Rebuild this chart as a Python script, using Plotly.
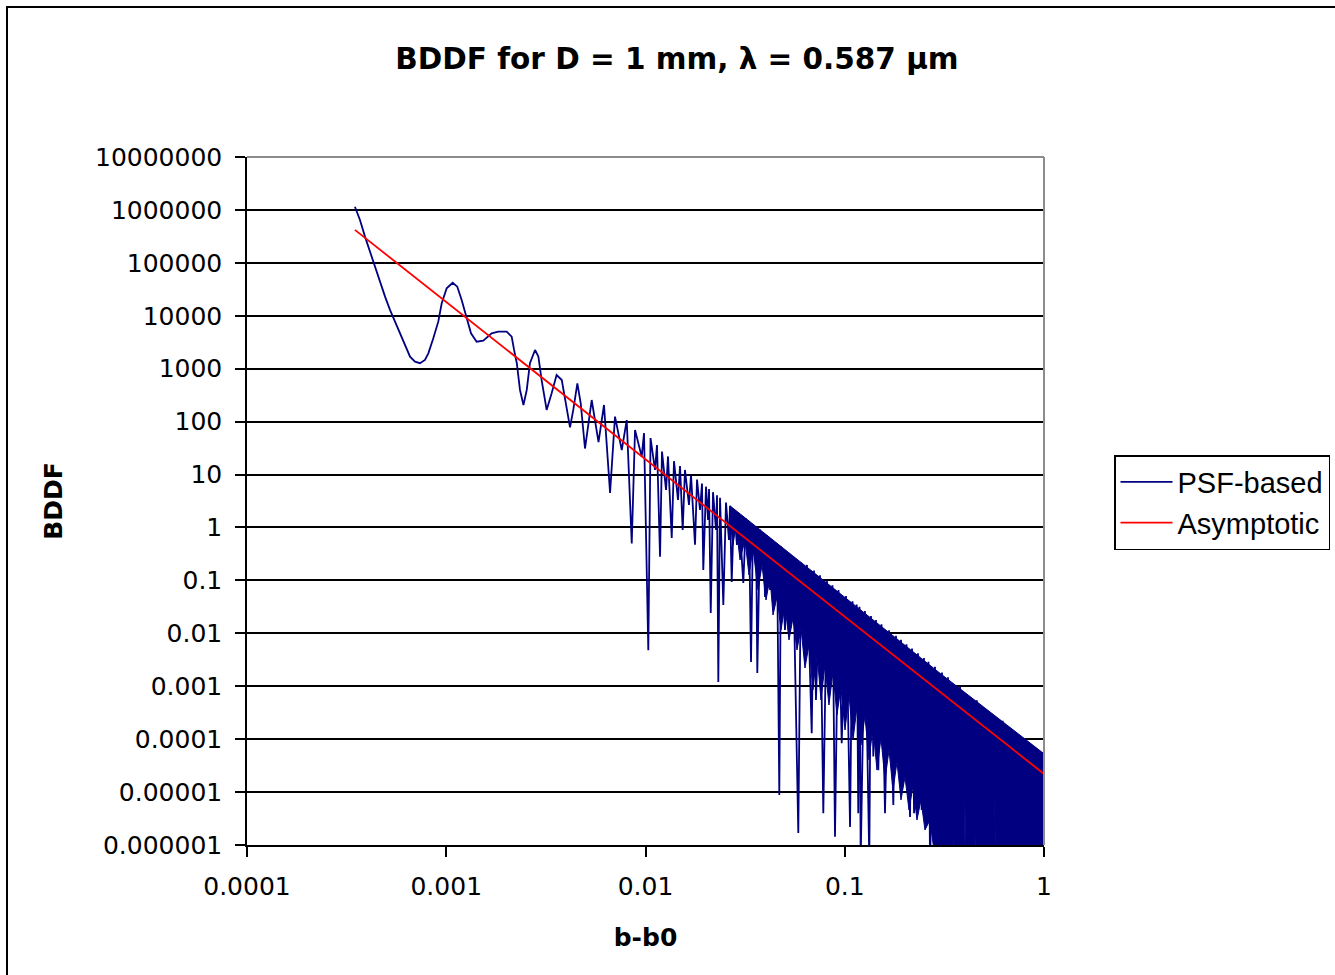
import plotly.graph_objects as go

# ---------------- data ----------------
psf_b = [
    3.48e-4, 3.69e-4, 3.91e-4, 4.14e-4, 4.39e-4, 4.65e-4, 4.93e-4, 5.22e-4, 5.53e-4, 5.86e-4,
    6.21e-4, 6.58e-4, 6.97e-4, 7.38e-4, 7.82e-4, 8.13e-4, 8.61e-4, 9.12e-4, 9.49e-4, 1.005e-3,
    1.077e-3, 1.136e-3, 1.195e-3, 1.266e-3, 1.331e-3, 1.421e-3, 1.534e-3, 1.69e-3, 1.825e-3, 2.01e-3,
    2.13e-3, 2.19e-3, 2.26e-3, 2.345e-3, 2.44e-3, 2.535e-3, 2.63e-3, 2.79e-3, 2.9e-3, 3.01e-3,
    3.19e-3, 3.38e-3, 3.58e-3, 3.80e-3, 4.02e-3, 4.18e-3, 4.34e-3, 4.55e-3, 4.73e-3, 4.97e-3,
    5.37e-3, 5.81e-3, 6.19e-3, 6.64e-3, 7.03e-3, 7.60e-3,
    8.05e-3, 8.53e-3, 8.86e-3, 9.57e-3, 9.83e-3, 0.01033, 0.01060, 0.01116, 0.01142, 0.01183,
    0.01210, 0.01268, 0.01297, 0.01354, 0.01390, 0.01456, 0.01490, 0.01537, 0.01578, 0.01653,
    0.01692, 0.01772, 0.01814, 0.01877, 0.01921, 0.0195, 0.02012, 0.0206, 0.02084, 0.02125,
    0.02182, 0.02259, 0.02285, 0.0232, 0.02366, 0.02458, 0.02535, 0.02624, 0.02655, 0.02708,
    0.0278, 0.02878, 0.02946, 0.03096, 0.03194, 0.0327, 0.03307, 0.03385, 0.03464, 0.03546,
    0.03587, 0.0364, 0.03756, 0.03844, 0.03889, 0.0398, 0.04074, 0.04218, 0.04313, 0.04466,
    0.04571, 0.04694, 0.04787, 0.05013, 0.0519, 0.05374, 0.055, 0.05846, 0.0603, 0.0622,
    0.06462, 0.06826, 0.07009, 0.0717, 0.07511, 0.07805, 0.08143, 0.08433, 0.08678, 0.08933,
    0.09302, 0.09654, 0.1015, 0.1063, 0.1094, 0.1126, 0.1148, 0.1169, 0.1186, 0.1202,
    0.1263, 0.1328, 0.1354, 0.1391, 0.1435, 0.1474, 0.1529, 0.1592, 0.1668, 0.1753,
    0.1808, 0.1857, 0.1916, 0.1967, 0.2041, 0.2126, 0.2176, 0.2227, 0.2331, 0.2433,
    0.2498, 0.2578, 0.2632, 0.2679, 0.2837, 0.3006, 0.3076, 0.3148, 0.3298, 0.3442,
    0.379, 0.42, 0.46, 0.55, 0.62, 0.72, 0.8, 0.9, 1.0,
]
psf_bddf = [
    1.15e6, 6.46e5, 3.13e5, 1.63e5, 9.1e4, 4.41e4, 2.30e4, 1.29e4, 7.74e3, 4.67e3,
    2.61e3, 1.69e3, 1.36e3, 1.27e3, 1.46e3, 1.95e3, 3.76e3, 7.74e3, 1.72e4, 3.31e4,
    4.2e4, 3.55e4, 1.99e4, 8.97e3, 4.67e3, 3.24e3, 3.39e3, 4.67e3, 5.0e3, 5.0e3,
    4.03e3, 2.26e3, 1.27e3, 396, 206, 396, 1.27e3, 2.26e3, 1.69e3, 612,
    166, 343, 760, 612, 191, 78, 166, 530, 222, 31,
    256, 41, 206, 4.5, 124, 29,
    107, 0.50, 69.5, 21.8, 61, 4.8e-3, 49, 12.2, 36, 0.28,
    27.2, 5.1, 22.0, 0.63, 17.9, 3.3, 14.5, 0.90, 12.2, 2.66,
    9.9, 0.47, 8.07, 2.14, 6.78, 0.157, 5.90, 1.38, 5.33, 0.0242,
    4.64, 0.90, 4.04, 1.2e-3, 3.64, 0.0343, 2.95, 0.58, 2.57, 0.093,
    2.23, 0.47, 1.88, 0.089, 1.48, 0.375, 1.33, 2.87e-3, 1.16, 0.243,
    1.04, 1.78e-3, 0.91, 0.195, 0.82, 0.0485, 0.71, 0.066, 0.60, 0.0427,
    0.50, 8.8e-6, 0.44, 0.01156, 0.344, 0.0179, 0.289, 1.69e-6, 0.219, 0.035,
    0.196, 1.29e-4, 0.154, 5.5e-4, 0.125, 3.97e-6, 0.0981, 9.8e-4, 0.0811, 1.44e-6,
    0.0658, 8.4e-5, 0.0507, 2.2e-6, 0.0405, 3.1e-4, 0.035, 3.97e-6, 0.0318, 5e-7,
    0.0263, 5e-7, 0.0213, 4.7e-5, 0.0179, 2.6e-5, 0.0148, 3.97e-6, 0.0114, 5.7e-6,
    8.97e-3, 7.2e-5, 7.54e-3, 5.4e-5, 6.23e-3, 3.4e-6, 5.15e-3, 3.97e-6, 4.18e-3, 4.6e-6,
    3.40e-3, 3.97e-6, 2.91e-3, 5e-7, 2.32e-3, 3.9e-6, 1.82e-3, 5e-7, 1.48e-3, 5e-7,
    9.75e-4, 5e-7, 5.44e-4, 5e-7, 2.22e-4, 5e-7, 1.04e-4, 5e-7, 5.3e-5,
]

# dense part of the PSF-based curve, drawn as a solid band:
# upper envelope ...
band_top_b = [0.02655, 0.03158, 0.03756, 0.04466, 0.05311, 0.06442, 0.07776, 0.09467,
              0.1139, 0.1386, 0.1687, 0.2047, 0.2385, 0.2679, 0.3006, 1.0]
band_top = [2.57, 1.53, 0.908, 0.538, 0.321, 0.180, 0.102, 0.0565,
            0.0326, 0.0180, 0.0100, 5.6e-3, 3.54e-3, 2.5e-3, 1.76e-3, 5.3e-5]
# ... and ragged lower edge of the solid part
band_bot_b = [0.02655, 0.02749, 0.02846, 0.02981, 0.03158, 0.03307, 0.03464, 0.03670, 0.03844,
              0.04025, 0.04216, 0.04365, 0.04571, 0.04787, 0.05013, 0.05250, 0.05498, 0.05758,
              0.06030, 0.06315, 0.06613, 0.06925, 0.07253, 0.07596, 0.07955, 0.08331, 0.08725,
              0.09137, 0.09570, 0.1003, 0.1050, 0.1100, 0.1152, 0.1206, 0.1263, 0.1323,
              0.1386, 0.1451, 0.1520, 0.1592, 0.1668, 0.1746, 0.1829, 0.1915, 0.2006,
              0.2101, 0.2200, 0.2304, 0.2413, 0.2527, 0.2679, 0.3006,
              0.3466, 0.3506, 0.3546, 0.3968, 0.4014, 0.4061, 0.4489, 0.4541, 0.4594,
              0.5611, 0.5676, 0.5742, 0.7345, 0.743, 0.7517, 1.0]
band_bot = [1.38, 0.467, 1.114, 0.243, 0.580, 0.1265, 0.409, 0.0658, 0.1954,
            0.0426, 0.1110, 0.0222, 0.0486, 0.01155, 0.0343, 7.48e-3, 0.0195, 4.84e-3,
            0.0126, 2.21e-3, 6.02e-3, 8.49e-4, 4.44e-3, 5.50e-4, 2.52e-3, 4.42e-4, 1.86e-3,
            2.86e-4, 9.67e-4, 1.49e-4, 6.83e-4, 9.64e-5, 4.05e-4, 7.76e-5, 2.74e-4, 4.04e-5,
            1.70e-4, 2.61e-5, 1.05e-4, 1.69e-5, 6.24e-5, 1.09e-5, 3.70e-5, 7.09e-6, 1.93e-5,
            4.59e-6, 1.30e-5, 2.97e-6, 7.09e-6, 1.92e-6, 2.97e-6, 1e-7,
            1e-7, 5.3e-6, 1e-7, 1e-7, 8.2e-6, 1e-7, 1e-7, 3.4e-6, 1e-7,
            1e-7, 8.2e-6, 1e-7, 1e-7, 2.6e-6, 1e-7, 1e-7]

asym_b = [3.48e-4, 0.01, 1.0]
asym_bddf = [4.2e5, 19.5, 2.2e-5]

x_tickvals = [1e-4, 1e-3, 1e-2, 1e-1, 1]
x_ticktext = ["0.0001", "0.001", "0.01", "0.1", "1"]
y_tickvals = [1e-6, 1e-5, 1e-4, 1e-3, 1e-2, 1e-1, 1, 10, 100, 1e3, 1e4, 1e5, 1e6, 1e7]
y_ticktext = ["0.000001", "0.00001", "0.0001", "0.001", "0.01", "0.1", "1", "10",
              "100", "1000", "10000", "100000", "1000000", "10000000"]

NAVY = "#000080"
RED = "#FF0000"
FONT = "DejaVu Sans"
LEGEND_FONT = "Liberation Sans"

fig = go.Figure()

band_x = band_top_b + band_bot_b[::-1]
band_y = band_top + band_bot[::-1]
fig.add_trace(go.Scatter(x=band_x, y=band_y, mode="lines", fill="toself",
                         fillcolor=NAVY, line=dict(color=NAVY, width=1),
                         showlegend=False, hoverinfo="skip", legendgroup="psf"))
fig.add_trace(go.Scatter(x=psf_b, y=psf_bddf, mode="lines", name="PSF-based",
                         line=dict(color=NAVY, width=1.8), legendgroup="psf"))
fig.add_trace(go.Scatter(x=asym_b, y=asym_bddf, mode="lines", name="Asymptotic",
                         line=dict(color=RED, width=1.8), legendgroup="asym"))

L, R, T, B = 247, 291, 157, 130
W, H = 1335, 975
pw, ph = W - L - R, H - T - B

def px_x(p):
    return (p - L) / pw

def px_y(p):
    return (H - B - p) / ph

fig.update_layout(
    width=W, height=H, autosize=False,
    margin=dict(l=L, r=R, t=T, b=B, pad=0, autoexpand=False),
    paper_bgcolor="white", plot_bgcolor="white",
    font=dict(family=FONT, color="black", size=25),
    title=dict(text="<b>BDDF for D = 1 mm, λ = 0.587 µm</b>",
               font=dict(family=FONT, size=29.5, color="black"),
               x=px_x(677), xref="paper", xanchor="center",
               y=1 - 59 / H, yref="container", yanchor="middle"),
    xaxis=dict(type="log", range=[-4, 0], tickvals=x_tickvals, ticktext=x_ticktext,
               ticks="outside", ticklen=10, tickwidth=1.5, tickcolor="black",
               showline=True, linecolor="black", linewidth=1.5, showgrid=False,
               zeroline=False, tickfont=dict(family=FONT, size=25, color="black"),
               ticklabelstandoff=8,
               title=dict(text="<b>b-b0</b>", font=dict(family=FONT, size=25, color="black"),
                          standoff=29)),
    yaxis=dict(type="log", range=[-6, 7], tickvals=y_tickvals, ticktext=y_ticktext,
               ticks="outside", ticklen=10, tickwidth=1.5, tickcolor="black",
               showline=True, linecolor="black", linewidth=1.5,
               showgrid=True, gridcolor="black", gridwidth=1.5, zeroline=False,
               tickfont=dict(family=FONT, size=25, color="black"),
               ticklabelstandoff=8,
               title=dict(text="<b>BDDF</b>", font=dict(family=FONT, size=25, color="black"),
                          standoff=25)),
    legend=dict(x=px_x(1114), y=px_y(455), xanchor="left", yanchor="top",
                bgcolor="white", bordercolor="black", borderwidth=1.5,
                font=dict(family=LEGEND_FONT, size=29, color="black"),
                tracegroupgap=0, itemwidth=52),
    shapes=[
        dict(type="line", xref="paper", yref="paper", x0=0, x1=1, y0=1, y1=1,
             line=dict(color="#8c8c8c", width=2), layer="above"),
        dict(type="line", xref="paper", yref="paper", x0=1, x1=1, y0=0, y1=1,
             line=dict(color="#8c8c8c", width=2), layer="above"),
        dict(type="rect", xref="paper", yref="paper",
             x0=px_x(7), x1=px_x(1345), y0=px_y(985), y1=px_y(7),
             line=dict(color="black", width=2), fillcolor="rgba(0,0,0,0)", layer="below"),
    ],
)

fig.write_html("out.html")
